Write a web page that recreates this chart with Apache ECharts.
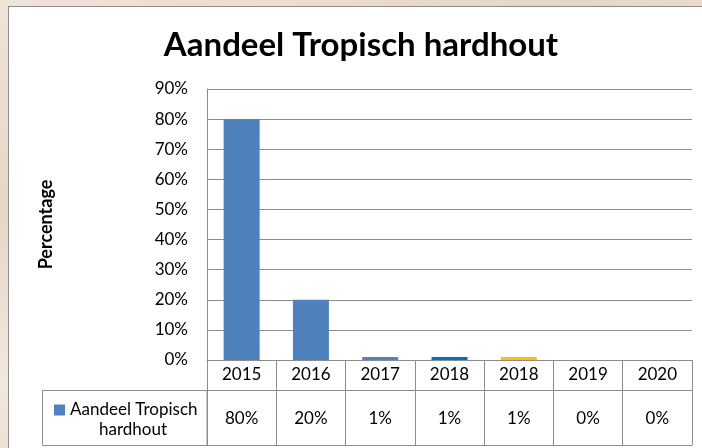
<!DOCTYPE html>
<html>
<head>
<meta charset="utf-8">
<script src="https://cdn.jsdelivr.net/npm/echarts@6/dist/echarts.min.js"></script>
<style>
  html, body { margin: 0; padding: 0; }
  body {
    width: 702px; height: 448px; overflow: hidden; position: relative;
    background: linear-gradient(160deg, #efe4d8 0%, #e6d6c6 30%, #f1e8de 55%, #e3d2c2 80%, #eee3d7 100%);
  }
  #panel {
    position: absolute; left: 8px; top: 6px; width: 720px; height: 460px;
    background: #ffffff; border: 1px solid #8c8c8c; box-sizing: border-box;
  }
  #chart { position: absolute; left: 0; top: 0; width: 702px; height: 448px; }
</style>
</head>
<body>
<div id="panel"></div>
<div id="chart"></div>
<script>
const title = 'Aandeel Tropisch hardhout';
const seriesName = 'Aandeel Tropisch hardhout';
const yAxisName = 'Percentage';
const categories = ['2015', '2016', '2017', '2018', '2018', '2019', '2020'];
const values = [0.80, 0.20, 0.01, 0.01, 0.01, 0.00, 0.00];
const yTicks = [0, 0.1, 0.2, 0.3, 0.4, 0.5, 0.6, 0.7, 0.8, 0.9];

const barColors = ['#4F81BD', '#4F81BD', '#4F81BD', '#0070C0', '#FFC000', '#4F81BD', '#4F81BD'];
const gridColor = '#8c8c8c';
const FONT = 'Lato, "Noto Sans", sans-serif';

const pct = v => Math.round(v * 100) + '%';
const valueLabels = values.map(pct);

const chart = echarts.init(document.getElementById('chart'), null, { renderer: 'canvas' });
chart.setOption({
  backgroundColor: 'transparent',
  animation: false,
  textStyle: { fontFamily: FONT },
  title: {
    text: title,
    left: 356,
    textAlign: 'center',
    top: 24,
    textStyle: { fontFamily: FONT, fontWeight: 'bold', fontSize: 33, color: '#000' }
  },
  legend: {
    data: [seriesName],
    left: 49,
    top: 395,
    icon: 'rect',
    itemWidth: 11,
    itemHeight: 11,
    formatter: () => 'Aandeel Tropisch',
    textStyle: { fontFamily: FONT, fontSize: 17, color: '#000', lineHeight: 20 }
  },
  grid: { left: 207, right: 10, top: 89, bottom: 88, containLabel: false },
  xAxis: [
    {
      type: 'category',
      data: categories,
      position: 'bottom',
      axisLine: { show: true, lineStyle: { color: gridColor, width: 1 } },
      axisTick: { show: true, length: 85, interval: 0, lineStyle: { color: gridColor, width: 1 } },
      axisLabel: { interval: 0, margin: 15, verticalAlign: 'middle', fontFamily: FONT, fontSize: 17, color: '#000' },
      splitLine: { show: false }
    },
    {
      type: 'category',
      data: valueLabels,
      position: 'bottom',
      offset: 30,
      axisLine: { show: true, lineStyle: { color: gridColor, width: 1 } },
      axisTick: { show: false },
      axisLabel: { interval: 0, margin: 29, verticalAlign: 'middle', fontFamily: FONT, fontSize: 17, color: '#000' },
      splitLine: { show: false }
    },
    {
      type: 'category',
      data: categories,
      position: 'bottom',
      offset: 85,
      axisLine: { show: true, lineStyle: { color: gridColor, width: 1 } },
      axisTick: { show: false },
      axisLabel: { show: false },
      splitLine: { show: false }
    }
  ],
  yAxis: {
    type: 'value',
    min: yTicks[0],
    max: yTicks[yTicks.length - 1],
    interval: 0.1,
    name: yAxisName,
    nameLocation: 'middle',
    nameRotate: 90,
    nameGap: 152,
    nameTextStyle: { fontFamily: FONT, fontWeight: 'bold', fontSize: 18, color: '#000' },
    axisLine: { show: true, lineStyle: { color: gridColor, width: 1 } },
    axisTick: { show: false },
    axisLabel: { formatter: pct, margin: 19, fontFamily: FONT, fontSize: 17, color: '#000' },
    splitLine: { show: true, lineStyle: { color: gridColor, width: 1 } }
  },
  graphic: [
    {
      type: 'rect',
      shape: { x: 42.5, y: 390.5, width: 164.5, height: 55 },
      style: { fill: 'none', stroke: gridColor, lineWidth: 1 },
      z: 10
    },
    {
      type: 'text',
      x: 133,
      y: 430,
      style: { text: 'hardhout', fontFamily: FONT, fontSize: 17, fill: '#000', align: 'center', verticalAlign: 'middle' },
      z: 10
    }
  ],
  series: [{
    name: seriesName,
    type: 'bar',
    xAxisIndex: 0,
    barWidth: 36,
    itemStyle: { color: barColors[0] },
    data: values.map((v, i) => ({ value: v, itemStyle: { color: barColors[i] } }))
  }]
});
</script>
</body>
</html>
